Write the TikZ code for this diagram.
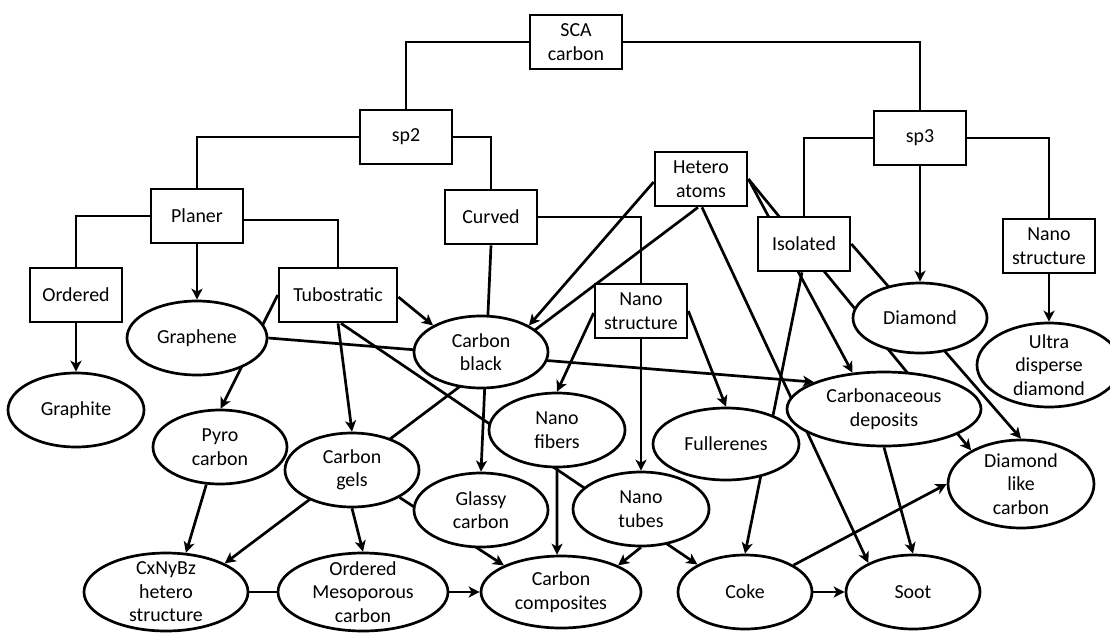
\documentclass[tikz,border=0pt]{standalone}
\usepackage{fontspec}
\setmainfont{Carlito}
\usetikzlibrary{shapes.geometric,arrows.meta,backgrounds}
\begin{document}
\begin{tikzpicture}[x=1pt,y=-1pt,
  every node/.style={font=\fontsize{19.9pt}{23.5pt}\selectfont},
  box/.style={draw, fill=white, line width=2.7pt, rectangle, inner sep=0pt,
    minimum height=54pt, minimum width=92pt, align=center},
  ell/.style={draw, fill=white, line width=2.7pt, ellipse, inner sep=0pt},
  lbl/.style={align=center, inner sep=0pt, draw=none, fill=none},
  conn/.style={line width=2.7pt},
  arr/.style={line width=2.7pt, -{Stealth[length=11pt,width=11pt,inset=3pt]}}
]
\useasboundingbox (0,0) rectangle (1110,632);
% boxes
\node[box] (sca) at (576,42) {SCA\\carbon};
\node[box] (sp2) at (406,137) {sp2};
\node[box] (sp3) at (920,138) {sp3};
\node[box] (planer) at (197,216) {Planer};
\node[box] (curved) at (491,217) {Curved};
\node[box] (ordered) at (76,295) {Ordered};
\node[box, minimum width=118pt] (tubo) at (338,295) {Tubostratic};
\node[box] (hetero) at (701,179) {Hetero\\atoms};
\node[box] (isolated) at (804,244) {Isolated};
\node[box] (nanoR) at (1049,246) {Nano\\structure};
\node[box] (nanoC) at (641,311) {Nano\\structure};
% ellipses
\node[ell, minimum width=140pt, minimum height=74pt, label={[lbl]center:Graphene}] (graphene) at (197,338) {};
\node[ell, minimum width=136pt, minimum height=74pt, label={[lbl]center:Graphite}] (graphite) at (76,410) {};
\node[ell, minimum width=134pt, minimum height=74pt, label={[lbl]center:{Pyro\\carbon}}] (pyro) at (220,447) {};
\node[ell, minimum width=134pt, minimum height=74pt, label={[lbl]center:{Carbon\\gels}}] (gels) at (352,470) {};
\node[ell, minimum width=164pt, minimum height=78pt, label={[lbl]center:{CxNyBz\\hetero\\structure}}] (cxnybz) at (166,592) {};
\node[ell, minimum width=170pt, minimum height=78pt, label={[lbl]center:{Ordered\\Mesoporous\\carbon}}] (omc) at (363,592) {};
\node[ell, minimum width=134pt, minimum height=72pt, label={[lbl]center:{Carbon\\black}}] (cblack) at (481,352) {};
\node[ell, minimum width=134pt, minimum height=74pt, label={[lbl]center:{Glassy\\carbon}}] (glassy) at (481,510) {};
\node[ell, minimum width=160pt, minimum height=72pt, label={[lbl]center:{Carbon\\composites}}] (ccomp) at (561,592) {};
\node[ell, minimum width=136pt, minimum height=74pt, label={[lbl]center:{Nano\\fibers}}] (nfibers) at (557,430) {};
\node[ell, minimum width=136pt, minimum height=74pt, label={[lbl]center:{Nano\\tubes}}] (ntubes) at (641,509) {};
\node[ell, minimum width=146pt, minimum height=72pt, label={[lbl]center:Fullerenes}] (fuller) at (726,444) {};
\node[ell, minimum width=134pt, minimum height=74pt, label={[lbl]center:Coke}] (coke) at (745,592) {};
\node[ell, minimum width=134pt, minimum height=74pt, label={[lbl]center:Soot}] (soot) at (913,592) {};
\node[ell, minimum width=194pt, minimum height=74pt, label={[lbl]center:{Carbonaceous\\deposits}}] (cdep) at (884,409) {};
\node[ell, minimum width=146pt, minimum height=88pt, label={[lbl]center:{Diamond\\like\\carbon}}] (dlc) at (1021,484) {};
\node[ell, minimum width=134pt, minimum height=70pt, label={[lbl]center:Diamond}] (diamond) at (920,318) {};
\node[ell, minimum width=144pt, minimum height=84pt, label={[lbl]center:{Ultra\\disperse\\diamond}}] (ultra) at (1049,365) {};

\begin{scope}[on background layer]
% tree connectors
\draw[conn] (sca.west) -| (sp2.north);
\draw[conn] (sca.east) -| (sp3.north);
\draw[conn] (sp2.west) -| (planer.north);
\draw[conn] (sp2.east) -| (curved.north);
\draw[conn] (planer.west) -| (ordered.north);
\draw[conn] ([yshift=-4pt]planer.east) -| (tubo.north);
\draw[conn] (sp3.west) -| (isolated.north);
\draw[conn] (sp3.east) -| (nanoR.north);
\draw[conn] (curved.east) -| (nanoC.north);
% arrows
\draw[arr] (planer.south) -- (graphene.north);
\draw[arr] (ordered.south) -- (graphite.north);
\draw[arr] (sp3.south) -- (diamond.north);
\draw[arr] (nanoR.south) -- (ultra.north);
\draw[arr] ([yshift=-2pt]tubo.east) -- (cblack.151);
\draw[arr] (tubo.west) -- (pyro.89);
\draw[arr] (tubo.south) -- (gels.north);
\draw[arr] ([xshift=3pt]tubo.south) -- (coke.150);
\draw[arr] (graphene.east) -- (cdep.159);
\draw[arr] (pyro.250) -- (cxnybz.63);
\draw[arr] ([xshift=-3pt]hetero.south) -- (cxnybz.26);
\draw[arr] (gels.south) -- (omc.north);
\draw[arr] (gels.-30) -- (ccomp.155);
\draw[arr] (cxnybz.east) -- (ccomp.west);
\draw[arr] (curved.south) -- (glassy.north);
\draw[arr] ([yshift=-3pt]hetero.west) -- (cblack.29);
\draw[arr] ([xshift=1pt]hetero.south) -- (soot.147);
\draw[arr] (hetero.east) -- (cdep.131);
\draw[arr] (hetero.east) -- (dlc.146);
\draw[arr] (isolated.east) -- (dlc.north);
\draw[arr] ([xshift=-2pt]isolated.south) -- (coke.north);
\draw[arr] ([yshift=-2pt]nanoC.west) -- (nfibers.north);
\draw[arr] (nanoC.east) -- (fuller.north);
\draw[arr] (nanoC.south) -- (ntubes.north);
\draw[arr] (nfibers.south) -- (ccomp.96);
\draw[arr] (ntubes.south) -- (ccomp.25);
\draw[arr] (coke.east) -- (soot.west);
\draw[arr] (coke.29) -- (dlc.west);
\draw[arr] (cdep.south) -- (soot.north);
\end{scope}
\end{tikzpicture}
\end{document}
